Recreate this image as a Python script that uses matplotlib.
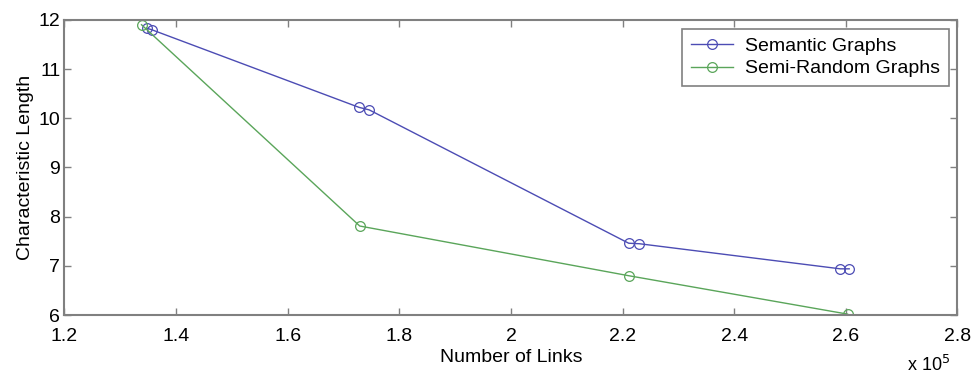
import matplotlib
matplotlib.use('Agg')
import matplotlib.pyplot as plt
import numpy as np

plt.rcParams['font.family'] = ['Liberation Sans', 'DejaVu Sans']

# number of links (raw) and characteristic length
semantic_links = [134700, 135600, 172800, 174600, 221100, 223000, 259000, 260600]
semantic_len = [11.83, 11.80, 10.22, 10.17, 7.46, 7.45, 6.94, 6.94]
random_links = [133800, 172900, 221100, 260300]
random_len = [11.90, 7.81, 6.80, 6.02]

xticks = [1.2, 1.4, 1.6, 1.8, 2, 2.2, 2.4, 2.6, 2.8]
xtick_labels = ['1.2', '1.4', '1.6', '1.8', '2', '2.2', '2.4', '2.6', '2.8']
yticks = [6, 7, 8, 9, 10, 11, 12]

fig = plt.figure(figsize=(9.77, 3.81), dpi=100)
ax = fig.add_axes([0.066, 0.173, 0.914, 0.775])

ax.plot(np.array(semantic_links) / 1e5, semantic_len, '-o', color='#4c4cb4',
        mfc='none', ms=7, lw=1.0, mew=0.9, label='Semantic Graphs')
ax.plot(np.array(random_links) / 1e5, random_len, '-o', color='#5aa55a',
        mfc='none', ms=7, lw=1.0, mew=0.9, label='Semi-Random Graphs')

ax.set_xlim(1.2, 2.8)
ax.set_ylim(6, 12)
ax.set_xticks(xticks)
ax.set_xticklabels(xtick_labels)
ax.set_yticks(yticks)
ax.tick_params(direction='in', top=True, right=True, labelsize=14,
               color='#808080', length=5, width=1)
ax.tick_params(axis='x', pad=9)
ax.tick_params(axis='y', pad=3)
for s in ax.spines.values():
    s.set_color('#808080')
    s.set_linewidth(1.5)

ax.set_xlabel('Number of Links', fontsize=14, labelpad=3)
ax.set_ylabel('Characteristic Length', fontsize=14, labelpad=3)
ax.text(0.944, -0.17, r'x 10$^5$', transform=ax.transAxes, fontsize=13,
        ha='left', va='center')

leg = ax.legend(loc='upper right', fontsize=14, fancybox=False,
                edgecolor='#808080', framealpha=1, borderaxespad=0.45,
                handlelength=2.2, handletextpad=0.6, borderpad=0.45,
                labelspacing=0.25)
leg.get_frame().set_linewidth(1.2)

fig.savefig('out.png', dpi=100)
